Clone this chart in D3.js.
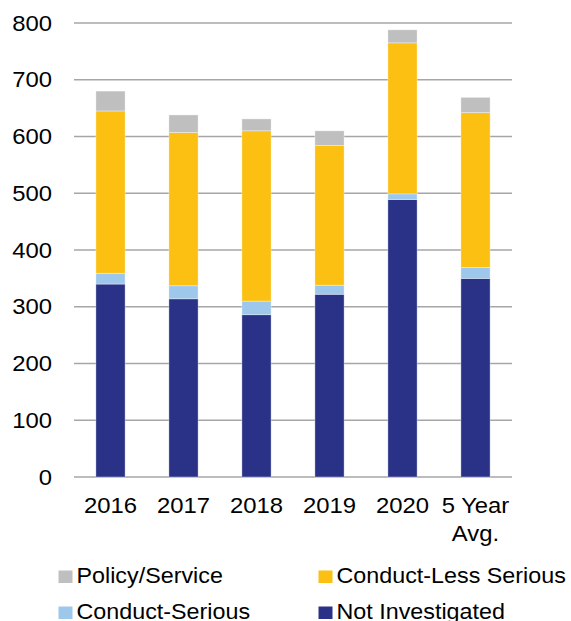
<!DOCTYPE html>
<html>
<head>
<meta charset="utf-8">
<script src="https://cdn.jsdelivr.net/npm/d3@7"></script>
<style>
  body { margin: 0; background: #fff; }
  svg text { font-family: "Liberation Sans", Arial, sans-serif; fill: #000; }
</style>
</head>
<body>
<div id="chart"></div>
<script>
// categories and series
var categories = ["2016", "2017", "2018", "2019", "2020", "5 Year Avg."];
var notInvestigated = [340, 314, 286, 322, 489, 350];
var conductSerious = [19, 23, 24, 16, 10, 19];
var conductLessSerious = [286, 270, 300, 246, 266, 273];
var policyService = [35, 31, 21, 26, 23, 27];
var yTicks = [0, 100, 200, 300, 400, 500, 600, 700, 800];

var seriesKeys = ["Not Investigated", "Conduct-Serious", "Conduct-Less Serious", "Policy/Service"];
var colors = {
  "Not Investigated": "#2a3288",
  "Conduct-Serious": "#9dc8eb",
  "Conduct-Less Serious": "#fbc012",
  "Policy/Service": "#bfbfbf"
};

var W = 571, H = 621;
var plotL = 74, plotR = 512, plotT = 23, plotB = 477;
var sx = 1.06; // text in the picture is a bit wide

var rows = categories.map(function(c, i) {
  return {
    cat: c,
    "Not Investigated": notInvestigated[i],
    "Conduct-Serious": conductSerious[i],
    "Conduct-Less Serious": conductLessSerious[i],
    "Policy/Service": policyService[i]
  };
});

var svg = d3.select("#chart").append("svg")
  .attr("width", W).attr("height", H);

var x = d3.scaleBand().domain(categories).range([plotL, plotR]).paddingInner(0.6).paddingOuter(0.3);
var y = d3.scaleLinear().domain([0, 800]).range([plotB, plotT]);

// gridlines
svg.append("g").selectAll("line")
  .data(yTicks).enter().append("line")
  .attr("x1", plotL).attr("x2", plotR)
  .attr("y1", function(d) { return y(d); })
  .attr("y2", function(d) { return y(d); })
  .attr("stroke", "#a6a6a6").attr("stroke-width", 1.3);

// y axis labels
var yAxis = d3.axisLeft(y).tickValues(yTicks).tickSize(0).tickPadding(22);
var ya = svg.append("g").attr("transform", "translate(" + plotL + ",0)").call(yAxis);
ya.select(".domain").remove();
ya.selectAll("text")
  .style("font-family", "Liberation Sans, Arial, sans-serif")
  .style("font-size", "22.5px").attr("fill", "#000")
  .attr("x", -22 / sx)
  .attr("transform", "scale(" + sx + ",1)");

// stacked bars
var stack = d3.stack().keys(seriesKeys)(rows);
svg.append("g").selectAll("g")
  .data(stack).enter().append("g")
  .attr("fill", function(d) { return colors[d.key]; })
  .selectAll("rect")
  .data(function(d) { return d; }).enter().append("rect")
  .attr("x", function(d) { return x(d.data.cat); })
  .attr("width", x.bandwidth())
  .attr("y", function(d) { return y(d[1]); })
  .attr("height", function(d) { return y(d[0]) - y(d[1]); })
  .attr("stroke", "rgba(255,255,255,0.45)").attr("stroke-width", 0.8);

// x labels
var xl = svg.append("g").selectAll("text")
  .data(categories).enter().append("text")
  .attr("text-anchor", "middle")
  .attr("font-size", "22.5px")
  .attr("transform", function(d) {
    return "translate(" + (x(d) + x.bandwidth() / 2) + ",513) scale(" + sx + ",1)";
  });
xl.each(function(d) {
  var t = d3.select(this);
  if (d == "5 Year Avg.") {
    t.append("tspan").attr("x", 0).text("5 Year");
    t.append("tspan").attr("x", 0).attr("dy", 28).text("Avg.");
  } else {
    t.text(d);
  }
});

// legend
var legendItems = [
  { key: "Policy/Service", x: 58.5, y: 583 },
  { key: "Conduct-Less Serious", x: 318.5, y: 583 },
  { key: "Conduct-Serious", x: 58.5, y: 619 },
  { key: "Not Investigated", x: 318.5, y: 619 }
];
var lg = svg.append("g").selectAll("g")
  .data(legendItems).enter().append("g")
  .attr("transform", function(d) { return "translate(" + d.x + "," + d.y + ")"; });
lg.append("rect").attr("x", 0).attr("y", -12.5).attr("width", 14).attr("height", 12.5)
  .attr("fill", function(d) { return colors[d.key]; });
lg.append("text")
  .attr("font-size", "22px")
  .attr("transform", "translate(18,0) scale(" + sx + ",1)")
  .text(function(d) { return d.key; });
</script>
</body>
</html>
